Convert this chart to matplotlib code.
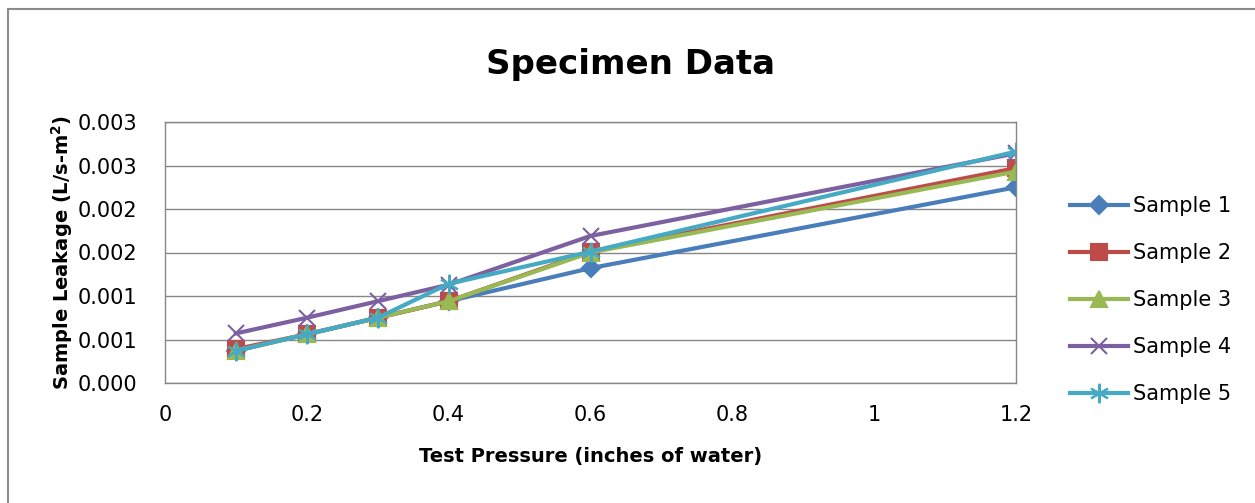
import numpy as np
import matplotlib.pyplot as plt
import matplotlib
from matplotlib.patches import Rectangle
matplotlib.rcParams['font.family'] = 'DejaVu Sans'

# test pressures (inches of water) and leakage (L/s-m2)
pressure = [0.1, 0.2, 0.3, 0.4, 0.6, 1.2]
sample1 = [0.00037, 0.00056, 0.00075, 0.00094, 0.00132, 0.00225]
sample2 = [0.00039, 0.00056, 0.00075, 0.00094, 0.00151, 0.00247]
sample3 = [0.00037, 0.00056, 0.00075, 0.00094, 0.00150, 0.00243]
sample4 = [0.00057, 0.00075, 0.00094, 0.00113, 0.00169, 0.00264]
sample5 = [0.00037, 0.00056, 0.00075, 0.00114, 0.00151, 0.00266]

labels = ['Sample 1', 'Sample 2', 'Sample 3', 'Sample 4', 'Sample 5']
y_ticks = [0, 0.0005, 0.001, 0.0015, 0.002, 0.0025, 0.003]
y_tick_labels = ['0.000', '0.001', '0.001', '0.002', '0.002', '0.003', '0.003']
x_ticks = [0, 0.2, 0.4, 0.6, 0.8, 1.0, 1.2]
x_tick_labels = ['0', '0.2', '0.4', '0.6', '0.8', '1', '1.2']

colors = ['#4A7EBB', '#BE4B48', '#98B954', '#7D60A0', '#46AAC5']
markers = ['D', 's', '^', 'x', (6, 2, 0)]
msizes = [9, 11, 11, 12, 14]

fig = plt.figure(figsize=(12.55, 5.03), dpi=100)
ax = fig.add_axes([165/1255, 1 - 383/503, (1016-165)/1255, (383-122)/503])

# chart-area border: only the top and left edges fall inside the picture
fig.patches.append(Rectangle((8/1255, -0.05), 1.0, 1 - 9/503 + 0.05,
                             transform=fig.transFigure, fill=False,
                             edgecolor='#8C8C8C', linewidth=1.5))

for ys, c, m, ms, lab in zip([sample1, sample2, sample3, sample4, sample5],
                             colors, markers, msizes, labels):
    ax.plot(pressure, ys, color=c, marker=m, markersize=ms, linewidth=3,
            markeredgewidth=1.5, markeredgecolor=c, label=lab)

ax.set_xlim(0, 1.2)
ax.set_ylim(0, 0.003)
ax.set_yticks(y_ticks)
ax.set_yticklabels(y_tick_labels)
ax.set_xticks(x_ticks)
ax.set_xticklabels(x_tick_labels)
ax.tick_params(length=0, labelsize=15, colors='black')
ax.tick_params(axis='y', pad=20)
ax.tick_params(axis='x', pad=16)
ax.grid(axis='y', color='#878787', linewidth=1)
ax.set_axisbelow(True)
for s in ax.spines.values():
    s.set_color('#878787')
    s.set_linewidth(1)

ax.set_xlabel('Test Pressure (inches of water)', fontsize=14,
              fontweight='bold', labelpad=16)
ax.set_ylabel('Sample Leakage (L/s-m$^\\mathbf{2}$)', fontsize=14,
              fontweight='bold', labelpad=2)
fig.text(631/1255, 1 - 74/503, 'Specimen Data', fontsize=24.5,
         fontweight='bold', ha='center', va='baseline')

ax.legend(loc='center left', bbox_to_anchor=(1.0635, 0.318), frameon=False,
          fontsize=15, handlelength=2.8, handletextpad=0.2,
          labelspacing=1.3, borderaxespad=0, borderpad=0)

fig.savefig('out.png', dpi=100)
